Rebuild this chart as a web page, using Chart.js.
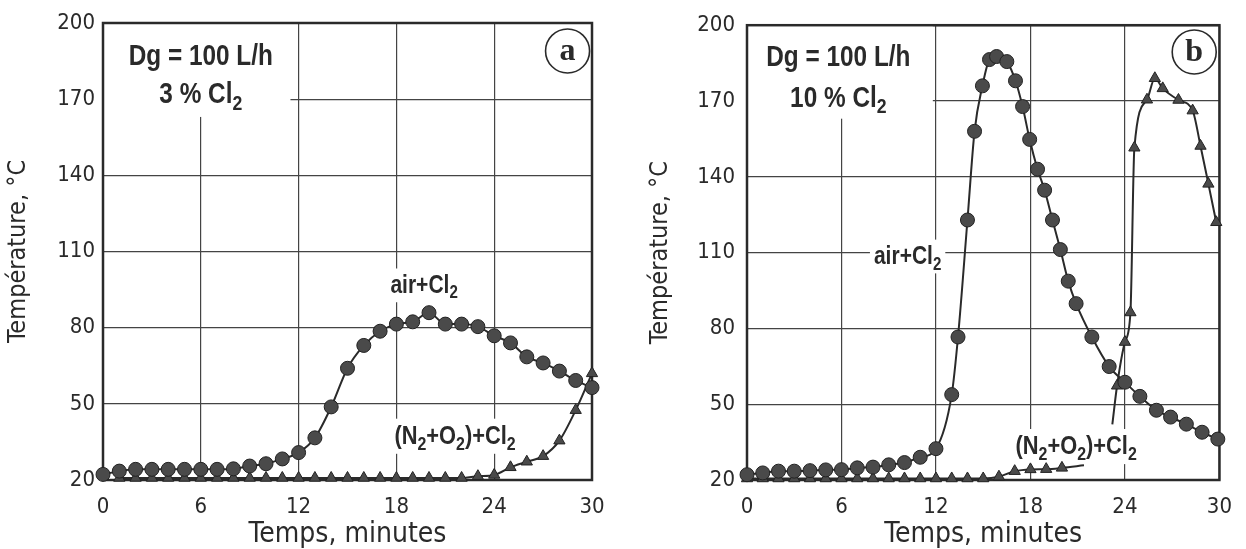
<!DOCTYPE html>
<html>
<head>
<meta charset="utf-8">
<script src="https://cdn.jsdelivr.net/npm/chart.js@4.4.1/dist/chart.umd.min.js"></script>
<style>
  html, body { margin: 0; padding: 0; background: #fff; overflow: hidden; }
  .panel { position: absolute; top: 0; width: 623px; height: 549px; }
  #wa { left: 0; }
  #wb { left: 623px; }
</style>
</head>
<body>
<div class="panel" id="wa"><canvas id="chartA" width="623" height="549"></canvas></div>
<div class="panel" id="wb"><canvas id="chartB" width="623" height="549"></canvas></div>
<script>
// axis ticks
const xTicks = [0, 6, 12, 18, 24, 30];
const yTicks = [20, 50, 80, 110, 140, 170, 200];

// (a) 3 % Cl2
const airMinA = [0,1,2,3,4,5,6,7,8,9,10,11,12,13,14,15,16,17,18,19,20,21,22,23,24,25,26,27,28,29,30];
const airTempA = [22.2,23.5,24.2,24.2,24.2,24.2,24.2,24.2,24.4,25.5,26.4,28.3,30.8,36.6,48.8,64,73,78.6,81.4,82.3,85.9,81.4,81.4,80.4,76.8,74,68.5,66.1,62.9,59.2,56.4];
const n2MinA = [1,2,3,4,5,6,7,8,9,10,11,12,13,14,15,16,17,18,19,20,21,22,23,24,25,26,27,28,29,30];
const n2TempA = [20.8,20.8,20.8,20.8,20.8,20.8,20.8,20.8,20.8,20.8,20.8,20.8,20.8,20.8,20.8,20.8,20.8,20.8,20.8,20.8,20.8,20.8,21.5,22,25,27.2,29.4,35.5,47.5,62];

// (b) 10 % Cl2
const airMinB = [0,1,2,3,4,5,6,7,8,9,10,11,12,13,13.4,14,14.45,14.95,15.4,15.85,16.5,17.05,17.5,17.95,18.45,18.9,19.4,19.9,20.4,20.9,21.9,23,24,24.95,26,26.9,27.9,28.9,29.9];
const airTempB = [22.1,22.8,23.5,23.5,23.7,24,24.1,24.8,25.1,26,26.9,29,32.4,53.8,76.6,122.9,158,176,186.4,187.6,185.6,178,167.8,154.8,143,134.7,122.9,111.2,98.7,89.8,76.6,64.9,58.7,53.1,47.6,44.9,42.1,38.9,36.2];
const n2MinB1 = [0,1,2,3,4,5,6,7,8,9,10,11,12,13,14,15,16,17,18,19,20,21.4];
const n2TempB1 = [20.6,20.6,20.6,20.6,20.6,20.6,20.6,20.6,20.6,20.6,20.6,20.6,20.6,20.6,20.6,20.6,21.3,23.5,24.2,24.3,24.8,25.8];
const n2MinB2 = [23.2,23.5,24,24.35,24.6,25.4,25.9,26.4,27.4,28.3,28.8,29.3,29.8];
const n2TempB2 = [42,57.3,74.6,86.3,151.5,170.5,179,175,170.4,166.2,152.2,137.2,122];

const FONT = "'DejaVu Sans Condensed', 'Liberation Sans Narrow', 'Liberation Sans', sans-serif";
const NOTE_FONT = "'Liberation Sans', Arial, sans-serif";
const NARROW = 0.84;
const INK = '#2a2a2a';

function toPts(xs, ys) {
  return xs.map((x, i) => ({ x: x, y: ys[i] }));
}

// "Cl_2" -> Cl with subscript 2
function parseRich(s) {
  const out = [];
  s.split(/_(\d)/).forEach((p, i) => { if (p) out.push({ t: p, sub: i % 2 === 1 }); });
  return out;
}

// bold text squeezed horizontally to look like a narrow face
function drawRich(ctx, cx, cy, str, size, bg) {
  const parts = parseRich(str);
  const subSize = Math.round(size * 0.72);
  let w = 0;
  parts.forEach(p => {
    ctx.font = 'bold ' + (p.sub ? subSize : size) + 'px ' + NOTE_FONT;
    p.w = ctx.measureText(p.t).width;
    w += p.w;
  });
  const shown = w * NARROW;
  const left = cx - shown / 2;
  const base = cy + size * 0.36;
  if (bg) {
    ctx.fillStyle = '#fff';
    ctx.fillRect(left - 4, cy - size * 0.62, shown + 8, size * 1.35);
  }
  ctx.save();
  ctx.translate(left, 0);
  ctx.scale(NARROW, 1);
  ctx.fillStyle = INK;
  ctx.textAlign = 'left';
  ctx.textBaseline = 'alphabetic';
  let x = 0;
  parts.forEach(p => {
    ctx.font = 'bold ' + (p.sub ? subSize : size) + 'px ' + NOTE_FONT;
    ctx.fillText(p.t, x, p.sub ? base + size * 0.22 : base);
    x += p.w;
  });
  ctx.restore();
}

// white box, frame, texts and the panel letter
const notesPlugin = {
  id: 'notes',
  beforeDatasetsDraw(chart, args, opts) {
    const { ctx, chartArea: a, scales: { x, y } } = chart;
    ctx.save();
    const b = opts.box;
    ctx.fillStyle = '#fff';
    ctx.fillRect(x.getPixelForValue(b[0]), y.getPixelForValue(b[1]),
      x.getPixelForValue(b[2]) - x.getPixelForValue(b[0]), y.getPixelForValue(b[3]) - y.getPixelForValue(b[1]));
    ctx.strokeStyle = INK;
    ctx.lineWidth = 2.5;
    ctx.strokeRect(a.left, a.top, a.right - a.left, a.bottom - a.top);
    opts.texts.forEach(t => {
      drawRich(ctx, x.getPixelForValue(t.x), y.getPixelForValue(t.y), t.text, t.size, true);
    });
    const bx = x.getPixelForValue(opts.badge.x), by = y.getPixelForValue(opts.badge.y);
    ctx.fillStyle = '#fff';
    ctx.beginPath();
    ctx.arc(bx, by, 22, 0, Math.PI * 2);
    ctx.fill();
    ctx.lineWidth = 1.6;
    ctx.stroke();
    ctx.fillStyle = INK;
    ctx.font = 'bold 32px "Liberation Serif", "DejaVu Serif", serif';
    ctx.textAlign = 'center';
    ctx.textBaseline = 'middle';
    ctx.fillText(opts.badge.text, bx, by + 1);
    ctx.restore();
  }
};

function circleSet(pts) {
  return {
    data: pts, pointStyle: 'circle', pointRadius: 7, pointHoverRadius: 7,
    pointBackgroundColor: '#4a4a4a', pointBorderColor: '#222', pointBorderWidth: 1,
    borderColor: INK, borderWidth: 2, cubicInterpolationMode: 'monotone', clip: false
  };
}

function triangleSet(pts, hideFirst, hideLast) {
  return {
    data: pts, pointStyle: 'triangle',
    pointRadius: ctx => ((hideFirst && ctx.dataIndex === 0) || (hideLast && ctx.dataIndex === pts.length - 1)) ? 0 : 6.5,
    pointBackgroundColor: '#4a4a4a', pointBorderColor: '#222', pointBorderWidth: 1,
    borderColor: INK, borderWidth: 2, cubicInterpolationMode: 'monotone', clip: false
  };
}

function makeChart(id, datasets, notes, yWidth, rightPad, yTitlePad, yTickPad) {
  return new Chart(id, {
    type: 'line',
    data: { datasets: datasets },
    plugins: [notesPlugin],
    options: {
      responsive: false,
      animation: false,
      events: [],
      layout: { padding: { top: 23, right: rightPad, left: 0, bottom: 0 } },
      plugins: { legend: { display: false }, tooltip: { enabled: false }, notes: notes },
      scales: {
        x: {
          type: 'linear', min: 0, max: 30,
          afterBuildTicks: s => { s.ticks = xTicks.map(v => ({ value: v })); },
          afterFit: s => { s.height = 69; },
          ticks: { color: INK, padding: 14, maxRotation: 0, font: { family: FONT, size: 22 } },
          grid: { color: '#444', lineWidth: 1.2, drawTicks: false },
          border: { display: false },
          title: {
            display: true, text: 'Temps, minutes', color: INK,
            font: { family: FONT, size: 28, lineHeight: 1 }, padding: { top: 0, bottom: 0 }
          }
        },
        y: {
          type: 'linear', min: 20, max: 200,
          afterBuildTicks: s => { s.ticks = yTicks.map(v => ({ value: v })); },
          afterFit: s => { s.width = yWidth; },
          ticks: { color: INK, padding: yTickPad, font: { family: FONT, size: 22 } },
          grid: { color: '#444', lineWidth: 1.2, drawTicks: false },
          border: { display: false },
          title: {
            display: true, text: 'Température, °C', color: INK,
            font: { family: FONT, size: 25, lineHeight: 1 }, padding: { top: yTitlePad, bottom: 0 }
          }
        }
      }
    }
  });
}

makeChart('chartA',
  [circleSet(toPts(airMinA, airTempA)), triangleSet(toPts(n2MinA, n2TempA), false, false)],
  {
    box: [0, 200, 11.5, 163],
    texts: [
      { x: 6, y: 187.5, text: 'Dg = 100 L/h', size: 29 },
      { x: 6, y: 172.5, text: '3 % Cl_2', size: 29 },
      { x: 19.7, y: 97.2, text: 'air+Cl_2', size: 25 },
      { x: 21.6, y: 37.8, text: '(N_2+O_2)+Cl_2', size: 26 }
    ],
    badge: { x: 28.5, y: 189, text: 'a' }
  },
  103, 31, 6, 8);

makeChart('chartB',
  [circleSet(toPts(airMinB, airTempB)), triangleSet(toPts(n2MinB1, n2TempB1), false, true),
   triangleSet(toPts(n2MinB2, n2TempB2), true, false)],
  {
    box: [0, 200, 11.8, 163],
    texts: [
      { x: 5.8, y: 187.8, text: 'Dg = 100 L/h', size: 29 },
      { x: 5.8, y: 171.8, text: '10 % Cl_2', size: 29 },
      { x: 10.2, y: 109, text: 'air+Cl_2', size: 25 },
      { x: 20.9, y: 33.8, text: '(N_2+O_2)+Cl_2', size: 26 }
    ],
    badge: { x: 28.4, y: 189.4, text: 'b' }
  },
  124, 12, 25, 12);
</script>
</body>
</html>
